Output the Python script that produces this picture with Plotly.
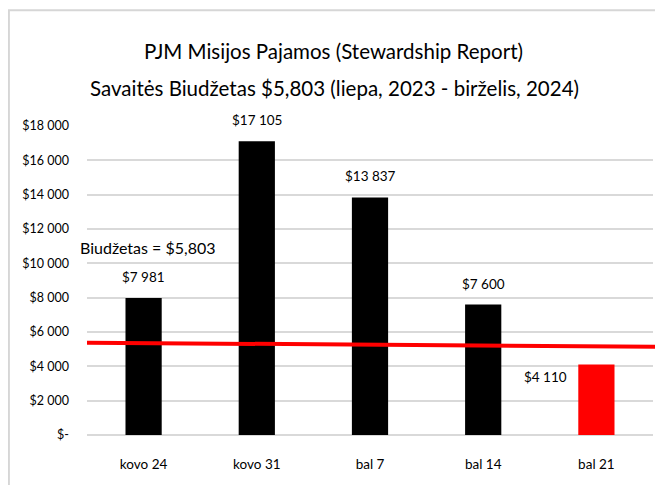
import plotly.graph_objects as go

categories = ["kovo 24", "kovo 31", "bal 7", "bal 14", "bal 21"]
values = [7981, 17105, 13837, 7600, 4110]
value_labels = ["$7 981", "$17 105", "$13 837", "$7 600", "$4 110"]
bar_colors = ["#000000", "#000000", "#000000", "#000000", "#ff0000"]
tick_vals = [0, 2000, 4000, 6000, 8000, 10000, 12000, 14000, 16000, 18000]
tick_text = ["$-", "$2 000", "$4 000", "$6 000", "$8 000", "$10 000", "$12 000",
             "$14 000", "$16 000", "$18 000"]
budget_line = [5380, 5130]  # drawn budget line, left and right ends
budget_text = "Biudžetas = $5,803"
title_lines = ["PJM Misijos Pajamos (Stewardship Report)",
               "Savaitės Biudžetas $5,803 (liepa, 2023 - birželis, 2024)"]

FONT = "Lato, sans-serif"

fig = go.Figure()
fig.add_trace(go.Bar(x=categories, y=values, marker=dict(color=bar_colors, line=dict(width=0)),
                     width=0.32, showlegend=False, hoverinfo="x+y"))

# value labels
for i, (c, v, t) in enumerate(zip(categories, values, value_labels)):
    if i == len(categories) - 1:
        fig.add_annotation(x=c, y=v, text=t, showarrow=False, xanchor="right", yanchor="middle",
                           xshift=-27, yshift=-13, font=dict(family=FONT, size=13.5, color="#000"))
    else:
        fig.add_annotation(x=c, y=v, text=t, showarrow=False, xanchor="center", yanchor="middle",
                           yshift=21, font=dict(family=FONT, size=13.5, color="#000"))

fig.add_annotation(x=categories[0], y=budget_line[0], text=budget_text, showarrow=False,
                   xref="x", yref="y", xanchor="center", yanchor="middle", xshift=4, yshift=95,
                   font=dict(family=FONT, size=16, color="#000"))

# title lines
fig.add_annotation(x=0.436, y=1.243, xref="paper", yref="paper", text=title_lines[0], showarrow=False,
                   xanchor="center", yanchor="middle", font=dict(family=FONT, size=20.5, color="#000"))
fig.add_annotation(x=0.438, y=1.123, xref="paper", yref="paper", text=title_lines[1], showarrow=False,
                   xanchor="center", yanchor="middle", font=dict(family=FONT, size=20.5, color="#000"))

# budget line
fig.add_shape(type="line", xref="paper", yref="y", x0=0, x1=1.03,
              y0=budget_line[0], y1=budget_line[1], line=dict(color="#ff0000", width=4), layer="above")

# outer frame
fig.add_shape(type="rect", xref="paper", yref="paper", x0=-0.138, x1=1.1, y0=-0.3, y1=1.375,
              line=dict(color="#d6d6d6", width=2), fillcolor="rgba(0,0,0,0)", layer="below")

fig.update_layout(
    width=655, height=477,
    margin=dict(l=79, r=10, t=118, b=50, autoexpand=False),
    paper_bgcolor="white", plot_bgcolor="white",
    bargap=0.68,
    xaxis=dict(range=[-0.5, len(categories) - 0.5], showgrid=False, showline=False, ticks="",
               automargin=False, ticklabelstandoff=19,
               tickfont=dict(family=FONT, size=13.5, color="#000"), fixedrange=True),
    yaxis=dict(range=[0, 18000], tickvals=tick_vals, ticktext=tick_text, showgrid=True, automargin=False,
               gridcolor="#d9d9d9", gridwidth=2, zeroline=True, zerolinecolor="#d9d9d9", zerolinewidth=2,
               ticks="", ticklen=0, tickfont=dict(family=FONT, size=12.5, color="#000"), ticklabelstandoff=17),
)

fig.write_html("out.html")
